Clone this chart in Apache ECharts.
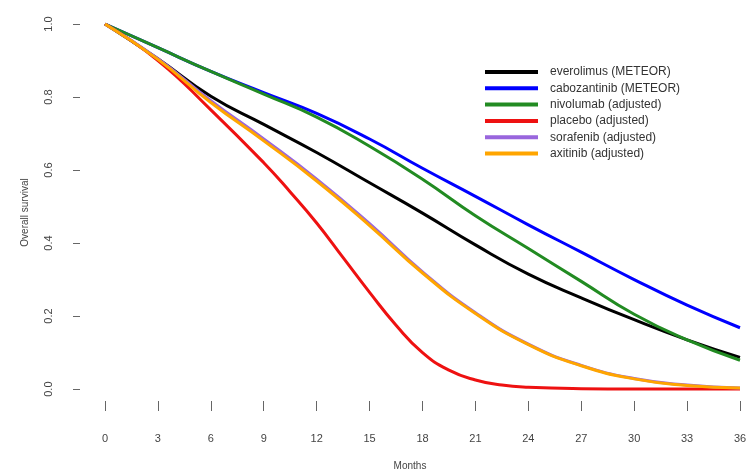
<!DOCTYPE html>
<html>
<head>
<meta charset="utf-8">
<script src="https://cdn.jsdelivr.net/npm/echarts@6/dist/echarts.min.js"></script>
<style>
  html, body { margin: 0; padding: 0; background: #ffffff; }
  #chart { width: 753px; height: 476px; }
</style>
</head>
<body>
<div id="chart"></div>
<script>
// Modelled overall survival curves by month
var months = [0, 3, 6, 9, 12, 15, 18, 21, 24, 27, 30, 33, 36];
// placebo falls steeply in the middle, so it is sampled more finely there
var placeboMonths = [0, 3, 6, 9, 10.5, 12, 13.5, 15, 16.5, 18, 19.5, 21, 22.5, 24, 27, 30, 33, 36];
var xTicks = [0, 3, 6, 9, 12, 15, 18, 21, 24, 27, 30, 33, 36];
var yTicks = [0, 0.2, 0.4, 0.6, 0.8, 1.0];

var everolimus   = [1, 0.905, 0.802, 0.725, 0.648, 0.565, 0.482, 0.395, 0.315, 0.250, 0.190, 0.135, 0.087];
var cabozantinib = [1, 0.935, 0.870, 0.812, 0.755, 0.685, 0.605, 0.528, 0.450, 0.375, 0.300, 0.230, 0.168];
var nivolumab    = [1, 0.935, 0.870, 0.808, 0.745, 0.665, 0.575, 0.475, 0.385, 0.295, 0.205, 0.135, 0.079];
var placebo      = [1, 0.900, 0.765, 0.620, 0.540, 0.455, 0.360, 0.265, 0.175, 0.100, 0.052, 0.025, 0.011, 0.005, 0.001, 0.000, 0.000, 0.000];
var sorafenib    = [1, 0.905, 0.790, 0.685, 0.575, 0.453, 0.321, 0.209, 0.123, 0.065, 0.029, 0.011, 0.003];
var axitinib     = [1, 0.903, 0.785, 0.680, 0.570, 0.448, 0.318, 0.207, 0.122, 0.064, 0.028, 0.010, 0.003];

var seriesNames = ['everolimus (METEOR)', 'cabozantinib (METEOR)', 'nivolumab (adjusted)',
                   'placebo (adjusted)', 'sorafenib (adjusted)', 'axitinib (adjusted)'];
var seriesValues = [everolimus, cabozantinib, nivolumab, placebo, sorafenib, axitinib];
var seriesMonths = [months, months, months, placeboMonths, months, months];
var seriesColors = ['#000000', '#0000ff', '#228b22', '#ee1111', '#9966dd', '#ffa500'];

function pairs(xs, values) {
  return xs.map(function (m, i) { return [m, values[i]]; });
}

var chart = echarts.init(document.getElementById('chart'), null, { renderer: 'canvas' });

var textColor = '#444444';
var fontFamily = 'Liberation Sans, Arial, sans-serif';

// The axes sit a little outside the data region, so the scale is padded
// below zero and left of month 0; ticks are placed on the round values only.
chart.setOption({
  animation: false,
  backgroundColor: '#ffffff',
  grid: { left: 80, right: 13, top: 24, bottom: 72 },
  legend: {
    orient: 'vertical',
    left: 485,
    top: 65,
    padding: 0,
    icon: 'rect',
    itemWidth: 53,
    itemHeight: 4,
    itemGap: 2.3,
    data: seriesNames,
    textStyle: {
      color: '#333333',
      fontSize: 12,
      lineHeight: 14,
      fontFamily: fontFamily,
      padding: [0, 0, 0, 7]
    }
  },
  xAxis: {
    type: 'value',
    min: -1.417,
    max: 36,
    name: 'Months',
    nameLocation: 'middle',
    nameGap: 60,
    nameTextStyle: { color: textColor, fontSize: 10, fontFamily: fontFamily },
    axisLine: { show: false, onZero: false },
    axisTick: { show: true, length: 10, customValues: xTicks, lineStyle: { color: '#666666', width: 1 } },
    splitLine: { show: false },
    axisLabel: {
      color: textColor,
      fontSize: 11,
      fontFamily: fontFamily,
      margin: 32,
      customValues: xTicks,
      formatter: function (v) { return String(Math.round(v)); }
    }
  },
  yAxis: {
    type: 'value',
    min: -0.0326,
    max: 1.0,
    name: 'Overall survival',
    nameLocation: 'middle',
    nameRotate: 90,
    nameGap: 50,
    nameTextStyle: { color: textColor, fontSize: 10, fontFamily: fontFamily },
    axisLine: { show: false, onZero: false },
    axisTick: { show: true, length: 7, customValues: yTicks, lineStyle: { color: '#666666', width: 1 } },
    splitLine: { show: false },
    axisLabel: {
      color: textColor,
      fontSize: 11,
      fontFamily: fontFamily,
      rotate: 90,
      margin: 26,
      customValues: yTicks,
      formatter: function (v) { return v.toFixed(1); }
    }
  },
  series: seriesNames.map(function (name, i) {
    return {
      name: name,
      type: 'line',
      data: pairs(seriesMonths[i], seriesValues[i]),
      smooth: 0.5,
      showSymbol: false,
      symbol: 'none',
      color: seriesColors[i],
      lineStyle: { color: seriesColors[i], width: 3 },
      emphasis: { disabled: true }
    };
  })
});
</script>
</body>
</html>
